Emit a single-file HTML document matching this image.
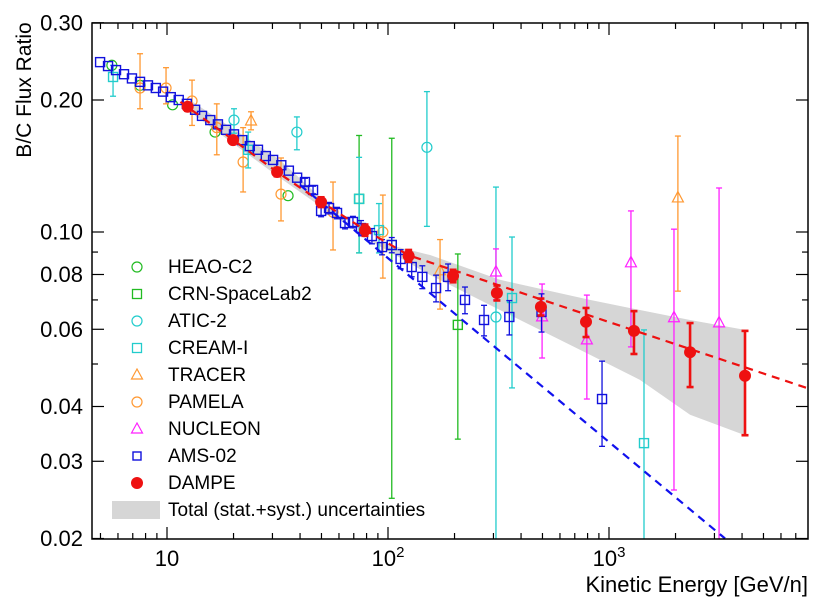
<!DOCTYPE html>
<html><head><meta charset="utf-8"><style>
html,body{margin:0;padding:0;background:#fff;}
#chart{display:block;font-family:"Liberation Sans",sans-serif;}
.leg svg{display:inline-block;}
</style></head><body>
<svg id="chart" width="832" height="611" viewBox="0 0 832 611" xmlns="http://www.w3.org/2000/svg"></svg>
<script>
// ---- data ----
const dampeE=[12.4,19.9,31.5,49.8,78.7,124,197,311,492,787,1297,2327,4125];
const dampeR=[0.193,0.162,0.137,0.117,0.101,0.0882,0.0794,0.0726,0.0675,0.0624,0.0595,0.0532,0.047];
const dampeHi=[0.197,0.165,0.140,0.120,0.104,0.091,0.082,0.0755,0.0705,0.0671,0.066,0.062,0.0595];
const dampeLo=[0.189,0.159,0.134,0.114,0.098,0.0855,0.0768,0.0698,0.0645,0.0576,0.0527,0.0443,0.0344];
const bandE=[12.7,32.4,78.7,155,321,820,1380,2327,4125];
const bandHi=[0.200,0.146,0.0964,0.0886,0.0778,0.070,0.0664,0.063,0.0598];
const bandLo=[0.188,0.133,0.097,0.0798,0.0664,0.0525,0.046,0.0383,0.0344];
const redLineE=[11.5,20,31.5,50,79,124,7950];
const redLineR=[0.198,0.162,0.137,0.117,0.101,0.0885,0.044];
const blueLineE=[40,3350], blueLineR=[0.128,0.02];
const amsE=[4.98,5.41,5.88,6.39,6.94,7.55,8.2,8.9,9.6,10.4,11.3,12.3,13.4,14.4,15.7,17.0,18.5,20.1,21.9,23.7,25.8,28.0,30.2,32.9,35.6,38.8,42.1,45.8,49.8,54.1,58.8,63.9,69.4,75.5,84.6,94.0,104,114,128,143,165,187,223,272,354,495,930];
const amsR=[0.244,0.239,0.234,0.229,0.224,0.220,0.216,0.213,0.209,0.203,0.200,0.196,0.190,0.184,0.180,0.176,0.171,0.167,0.162,0.157,0.154,0.149,0.146,0.142,0.138,0.133,0.130,0.1247,0.1117,0.1134,0.1105,0.1048,0.1054,0.1021,0.0979,0.0924,0.0934,0.0868,0.0832,0.079,0.0745,0.079,0.070,0.063,0.064,0.0657,0.0416];
const amsErr=[0,0,0,0,0,0,0,0,0,0,0,0,0,0,0,0,0,0,0,0,0,0,0,0,0,0,0.02,0.02,0.03,0.03,0.03,0.03,0.03,0.04,0.04,0.04,0.04,0.05,0.05,0.06,0.07,0.07,0.07,0.08,0.09,0.1,0.22];
const heaoE=[5.63,7.55,10.6,16.5,35.3], heaoR=[0.240,0.216,0.195,0.169,0.121];
const crnE=[74,104,207], crnR=[0.119,0.0934,0.0614], crnHi=[0.166,0.1636,0.0891], crnLo=[0.0896,0.0247,0.0337];
const aticE=[20.1,38.7,150,308], aticR=[0.18,0.169,0.156,0.064], aticHi=[0.191,0.183,0.209,0.1266], aticLo=[0.168,0.154,0.103,0.015];
const creamE=[5.7,23.3,74,91,364,1440], creamR=[0.2257,0.154,0.119,0.101,0.0707,0.033], creamHi=[0.240,0.169,0.148,0.1161,0.0974,0.0598], creamLo=[0.204,0.140,0.0896,0.0896,0.0441,0.015];
const tracerE=[24,172,2050], tracerR=[0.179,0.0815,0.1195], tracerHi=[0.188,0.0961,0.1655], tracerLo=[0.171,0.0667,0.0733];
const pamE=[7.55,9.9,12.98,16.8,22.1,32.8,56.4,94.8], pamR=[0.213,0.213,0.199,0.173,0.1444,0.122,0.111,0.100], pamHi=[0.255,0.237,0.222,0.196,0.173,0.1475,0.130,0.1214], pamLo=[0.191,0.196,0.175,0.150,0.1234,0.106,0.091,0.0785];
const nucE=[308,498,794,1257,1968,3148], nucR=[0.081,0.064,0.0567,0.085,0.0637,0.062], nucHi=[0.0915,0.0761,0.0718,0.1117,0.1015,0.126], nucLo=[0.07,0.0516,0.0416,0.0547,0.0258,0.015];
const yTickVals=[0.02,0.03,0.04,0.06,0.08,0.1,0.2,0.3];
const yTickLabels=["0.02","0.03","0.04","0.06","0.08","0.10","0.20","0.30"];
const yMinorVals=[0.05,0.07,0.09];
const xMajorVals=[10,100,1000];

// ---- axes ----
const L=92,R=808,T=23,B=539;
const xDec=221, x10=167;
function X(e){return x10+(Math.log10(e)-1)*xDec;}
function Y(r){return 232-(Math.log10(r)+1)*438.5;}
function clampY(y){return Math.max(T,Math.min(B,y));}
const svg=document.getElementById('chart');
const NS='http://www.w3.org/2000/svg';
function el(tag,attrs,parent){const e=document.createElementNS(NS,tag);for(const k in attrs)e.setAttribute(k,attrs[k]);(parent||svg).appendChild(e);return e;}

const defs=el('defs',{});
const cp=el('clipPath',{id:'plotclip'},defs);
el('rect',{x:L,y:T,width:R-L,height:B-T},cp);
const plot=el('g',{'clip-path':'url(#plotclip)'});



let pts=[];
for(let i=0;i<bandE.length;i++)pts.push(X(bandE[i])+','+Y(bandHi[i]));
for(let i=bandE.length-1;i>=0;i--)pts.push(X(bandE[i])+','+Y(bandLo[i]));
const band=el('polygon',{points:pts.join(' '),fill:'#d6d6d6'},plot);



function errbar(g,x,hi,lo,color,w,cap){
  const y1=clampY(Y(hi)),y2=clampY(Y(lo));
  el('line',{x1:x,x2:x,y1:y1,y2:y2,stroke:color,'stroke-width':w},g);
  if(Y(hi)>=T)el('line',{x1:x-cap,x2:x+cap,y1:y1,y2:y1,stroke:color,'stroke-width':w},g);
  if(Y(lo)<=B)el('line',{x1:x-cap,x2:x+cap,y1:y2,y2:y2,stroke:color,'stroke-width':w},g);
}
function marker(g,type,x,y,color,size){
  if(type==='circle')el('circle',{cx:x,cy:y,r:size,fill:'none',stroke:color,'stroke-width':1.2},g);
  else if(type==='square')el('rect',{x:x-size,y:y-size,width:2*size,height:2*size,fill:'none',stroke:color,'stroke-width':1.4},g);
  else if(type==='tri')el('polygon',{points:`${x},${y-size-1} ${x-size},${y+size*0.7} ${x+size},${y+size*0.7}`,fill:'none',stroke:color,'stroke-width':1.2},g);
}
function series(name,E,Rv,Hi,Lo,type,color,size){
  const g=el('g',{},plot);
  
  
  for(let i=0;i<E.length;i++){
    const x=X(E[i]);
    if(Hi&&Lo)errbar(g,x,Hi[i],Lo[i],color,1.3,3);
    marker(g,type,x,Y(Rv[i]),color,size);
  }
  return g;
}
series('heao-c2-series',heaoE,heaoR,null,null,'circle','#22bb22',5);
series('pamela-series',pamE,pamR,pamHi,pamLo,'circle','#ff9933',5);
series('tracer-series',tracerE,tracerR,tracerHi,tracerLo,'tri','#ff9933',5.5);
series('crn-series',crnE,crnR,crnHi,crnLo,'square','#22bb22',4.5);
series('atic2-series',aticE,aticR,aticHi,aticLo,'circle','#22cccc',5);
series('cream-series',creamE,creamR,creamHi,creamLo,'square','#22cccc',4.5);
series('nucleon-series',nucE,nucR,nucHi,nucLo,'tri','#ff22ff',5.5);
const amsHi=amsR.map((r,i)=>r*(1+amsErr[i])), amsLo=amsR.map((r,i)=>r*(1-amsErr[i]));
const ag=el('g',{},plot);


for(let i=0;i<amsE.length;i++){
  const x=X(amsE[i]);
  if(amsErr[i]>0)errbar(ag,x,amsHi[i],amsLo[i],'#1111dd',1.3,3);
  el('rect',{x:x-4.5,y:Y(amsR[i])-4.5,width:9,height:9,fill:'none',stroke:'#1111dd','stroke-width':1.4},ag);
}
const rl=el('polyline',{points:redLineE.map((e,i)=>X(e)+','+Y(redLineR[i])).join(' '),fill:'none',stroke:'#ee1111','stroke-width':2.2,'stroke-dasharray':'8,6'},plot);


const bl=el('line',{x1:X(blueLineE[0]),y1:Y(blueLineR[0]),x2:X(blueLineE[1]),y2:Y(blueLineR[1]),stroke:'#1111ee','stroke-width':2.2,'stroke-dasharray':'8,6'},plot);


const dg=el('g',{},plot);


for(let i=0;i<dampeE.length;i++){
  const x=X(dampeE[i]);
  errbar(dg,x,dampeHi[i],dampeLo[i],'#ee1111',2.6,3.5);
  el('circle',{cx:x,cy:Y(dampeR[i]),r:6,fill:'#ee1111'},dg);
}

const fr=el('rect',{x:L,y:T,width:R-L,height:B-T,fill:'none',stroke:'#000','stroke-width':1.5});


const yax=el('g',{});


yTickVals.forEach((v,i)=>{
  const y=Y(v);
  el('line',{x1:L,x2:L+12,y1:y,y2:y,stroke:'#000','stroke-width':1.2},yax);
  el('line',{x1:R,x2:R-12,y1:y,y2:y,stroke:'#000','stroke-width':1.2},yax);
  const t=el('text',{x:83,y:y+7.5,'text-anchor':'end','font-size':22},yax);
  t.textContent=yTickLabels[i];
  
  
});
yMinorVals.forEach(v=>{const y=Y(v);
  el('line',{x1:L,x2:L+6,y1:y,y2:y,stroke:'#000','stroke-width':1.2},yax);
  el('line',{x1:R,x2:R-6,y1:y,y2:y,stroke:'#000','stroke-width':1.2},yax);});
const xax=el('g',{});


for(let d=0;d<=3;d++){for(let m=1;m<=9;m++){const e=m*Math.pow(10,d);const x=X(e);if(x<L||x>R)continue;
  const len=m===1?12:6;
  el('line',{x1:x,x2:x,y1:B,y2:B-len,stroke:'#000','stroke-width':1.2},xax);
  el('line',{x1:x,x2:x,y1:T,y2:T+len,stroke:'#000','stroke-width':1.2},xax);}}
xMajorVals.forEach(v=>{
  const x=X(v);const p=Math.round(Math.log10(v));
  const t=el('text',{x:x,y:566,'text-anchor':'middle','font-size':22},xax);
  
  
  if(p===1)t.textContent='10';
  else{t.textContent='10';const s=el('tspan',{dy:-9,'font-size':15},t);s.textContent=String(p);}
});
</script>
<div style="position:absolute;left:0;top:0;width:832px;height:611px;pointer-events:none;font-family:'Liberation Sans',sans-serif;">
  <div style="position:absolute;left:-60px;top:78px;width:170px;height:24px;transform:rotate(-90deg);transform-origin:center;font-size:21px;text-align:center;line-height:24px;">B/C Flux Ratio</div>
  <div style="position:absolute;right:24px;top:572px;font-size:22px;">Kinetic Energy [GeV/n]</div>
  <div class="leg" style="position:absolute;left:110px;top:254px;font-size:19px;line-height:27px;white-space:nowrap;">
    <div><svg width="58" height="14" style="vertical-align:-1px"><circle cx="27" cy="7" r="5" fill="none" stroke="#22bb22" stroke-width="1.2"/></svg>HEAO-C2</div>
    <div><svg width="58" height="14" style="vertical-align:-1px"><rect x="22.5" y="2.5" width="9" height="9" fill="none" stroke="#22bb22" stroke-width="1.3"/></svg>CRN-SpaceLab2</div>
    <div><svg width="58" height="14" style="vertical-align:-1px"><circle cx="27" cy="7" r="5" fill="none" stroke="#22cccc" stroke-width="1.2"/></svg>ATIC-2</div>
    <div><svg width="58" height="14" style="vertical-align:-1px"><rect x="22.5" y="2.5" width="9" height="9" fill="none" stroke="#22cccc" stroke-width="1.3"/></svg>CREAM-I</div>
    <div><svg width="58" height="14" style="vertical-align:-1px"><polygon points="27,1 21.5,11 32.5,11" fill="none" stroke="#ff9933" stroke-width="1.2"/></svg>TRACER</div>
    <div><svg width="58" height="14" style="vertical-align:-1px"><circle cx="27" cy="7" r="5" fill="none" stroke="#ff9933" stroke-width="1.2"/></svg>PAMELA</div>
    <div><svg width="58" height="14" style="vertical-align:-1px"><polygon points="27,1 21.5,11 32.5,11" fill="none" stroke="#ff22ff" stroke-width="1.2"/></svg>NUCLEON</div>
    <div><svg width="58" height="14" style="vertical-align:-1px"><rect x="23" y="3" width="8" height="8" fill="none" stroke="#1111dd" stroke-width="1.4"/></svg>AMS-02</div>
    <div><svg width="58" height="14" style="vertical-align:-1px"><circle cx="27" cy="7" r="6" fill="#ee1111"/></svg>DAMPE</div>
    <div><svg width="58" height="18" style="vertical-align:-3px"><rect x="2" y="0" width="48" height="18" fill="#d6d6d6"/></svg>Total (stat.+syst.) uncertainties</div>
  </div>
</div>
</body></html>
